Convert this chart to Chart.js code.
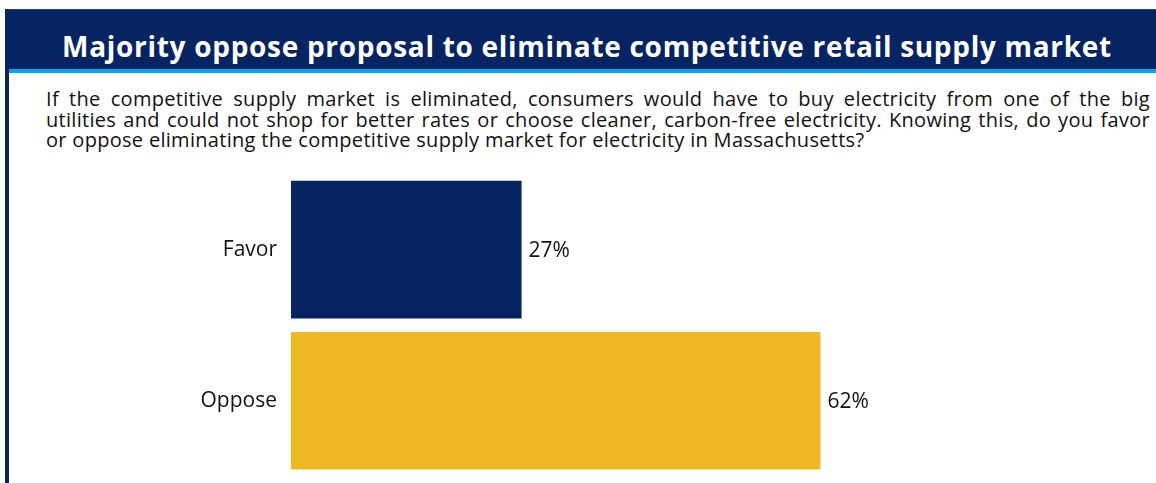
<!DOCTYPE html>
<html>
<head>
<meta charset="utf-8">
<script src="https://cdn.jsdelivr.net/npm/chart.js@4"></script>
<style>
  html, body { margin: 0; padding: 0; background: #fff; }
  body { width: 1156px; height: 483px; position: relative; overflow: hidden; font-family: 'Open Sans', sans-serif; }
  .frame { position: absolute; left: 5px; top: 9px; right: 0; bottom: -2px; border-left: 4px solid #062461; }
  .title {
    position: absolute; left: 0; right: 0; top: 0; height: 53px; padding: 7px 0 0 9px;
    background: #062461; color: #fff; font-weight: 700; font-size: 28px; letter-spacing: 0.7px;
    text-align: center; line-height: 60px; box-shadow: inset 0 4px 0 -3px #2b417c;
  }
  .stripe { position: absolute; left: 0; right: 0; top: 60px; height: 4px; background: #04a4ef; }
  .question {
    position: absolute; left: 37px; width: 1104px; top: 80px;
    font-size: 20px; letter-spacing: 0.3px; line-height: 20.5px; color: #111;
  }
  .question div { text-align: justify; text-align-last: justify; white-space: nowrap; }
  .question div.last { text-align-last: left; }
  #wrap { position: absolute; left: 0; top: 160px; width: 1156px; height: 329px; }
</style>
</head>
<body>
<div class="frame">
  <div class="title">Majority oppose proposal to eliminate competitive retail supply market</div>
  <div class="stripe"></div>
  <div class="question">
    <div>If the competitive supply market is eliminated, consumers would have to buy electricity from one of the big</div>
    <div>utilities and could not shop for better rates or choose cleaner, carbon-free electricity. Knowing this, do you favor</div>
    <div class="last">or oppose eliminating the competitive supply market for electricity in Massachusetts?</div>
  </div>
</div>
<div id="wrap"><canvas id="chart"></canvas></div>
<script>
  const NAVY = '#062461';
  const GOLD = '#F0B823';
  const INK = '#111111';

  const categories = ['Favor', 'Oppose'];
  const shares = [27, 62];
  const barColors = [NAVY, GOLD];

  // percent labels just past the end of each bar
  const valueLabels = {
    id: 'valueLabels',
    afterDatasetsDraw(chart) {
      const ctx = chart.ctx;
      const meta = chart.getDatasetMeta(0);
      ctx.save();
      ctx.font = "21px 'Open Sans'";
      ctx.fillStyle = INK;
      ctx.textAlign = 'left';
      ctx.textBaseline = 'middle';
      meta.data.forEach((bar, i) => {
        ctx.fillText(shares[i] + '%', bar.x + 7, bar.y + 1);
      });
      ctx.restore();
    }
  };

  new Chart(document.getElementById('chart'), {
    type: 'bar',
    data: {
      labels: categories,
      datasets: [{
        data: shares,
        backgroundColor: barColors,
        borderWidth: 0,
        categoryPercentage: 1,
        barPercentage: 0.91,
      }],
    },
    options: {
      indexAxis: 'y',
      responsive: true,
      maintainAspectRatio: false,
      animation: false,
      layout: { padding: { top: 14, bottom: 8, right: 11, left: 0 } },
      plugins: { legend: { display: false }, tooltip: { enabled: false } },
      scales: {
        x: { display: false, min: 0, max: 100 },
        y: {
          // invisible tick marks push the labels left of the bars
          grid: { color: 'transparent', drawOnChartArea: false, drawTicks: true, tickLength: 14 },
          border: { display: false },
          ticks: { color: INK, font: { family: 'Open Sans', size: 21 }, padding: 0 },
          afterFit(scale) { scale.width = 291; },
        },
      },
    },
    plugins: [valueLabels],
  });
</script>
</body>
</html>
